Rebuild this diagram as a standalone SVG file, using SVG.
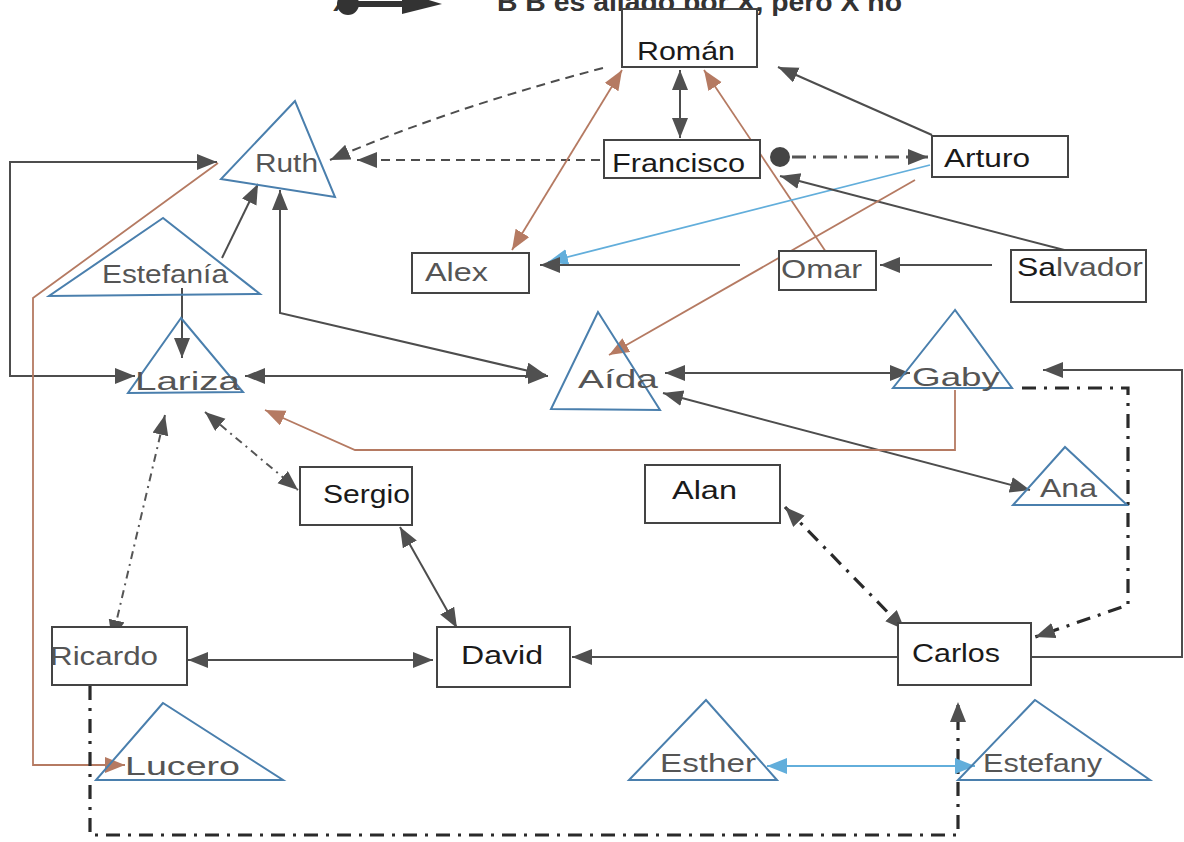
<svg xmlns="http://www.w3.org/2000/svg" width="1184" height="842" viewBox="0 0 1184 842">
<style>
.bg{fill:#ffffff}
.box{fill:#ffffff;stroke:#444;stroke-width:2}
.tri{fill:none;stroke:#4a7fad;stroke-width:2}
.lb{font-family:"Liberation Sans",Arial,sans-serif;font-size:26px;fill:#1a1a1a}
.lg{font-family:"Liberation Sans",Arial,sans-serif;font-size:26px;fill:#555}
.d{fill:none;stroke:#4d4d4d;stroke-width:2}
.br{fill:none;stroke:#b57a62;stroke-width:1.8}
.bl{fill:none;stroke:#62aedb;stroke-width:1.8}
.dash{fill:none;stroke:#4d4d4d;stroke-width:2;stroke-dasharray:9,6}
.dd{fill:none;stroke:#555;stroke-width:2;stroke-dasharray:8,5,2,5}
.ddk{fill:none;stroke:#2a2a2a;stroke-width:3.2;stroke-dasharray:14,8,3,8}
.leg{font-family:"Liberation Sans",Arial,sans-serif;font-size:26px;font-weight:bold;fill:#333}
</style>
<defs>
<marker id="ad" markerUnits="userSpaceOnUse" markerWidth="22" markerHeight="18" refX="20" refY="8" orient="auto-start-reverse"><path d="M0,0 L20,8 L0,16 z" fill="#505050"/></marker>
<marker id="ab" markerUnits="userSpaceOnUse" markerWidth="22" markerHeight="18" refX="20" refY="8" orient="auto-start-reverse"><path d="M0,0 L20,8 L0,16 z" fill="#b57a62"/></marker>
<marker id="al" markerUnits="userSpaceOnUse" markerWidth="22" markerHeight="18" refX="20" refY="8" orient="auto-start-reverse"><path d="M0,0 L20,8 L0,16 z" fill="#62aedb"/></marker>
</defs>
<rect class="bg" x="0" y="0" width="1184" height="842"/>

<g id="legend">
<text class="leg" x="333" y="11">X</text>
<circle cx="348" cy="4" r="11" fill="#333"/>
<path d="M355,4 L405,4" stroke="#333" stroke-width="6" fill="none"/>
<path d="M402,-8 L442,4 L402,14 z" fill="#333"/>
<text class="leg" x="497" y="11" textLength="405" lengthAdjust="spacingAndGlyphs">B  B es aliado por X, pero X no</text>
</g>

<g id="connectors">
<path class="dash" d="M603,68 Q450,108 330,160" marker-end="url(#ad)"/>
<path class="dash" d="M600,160 L357,160" marker-end="url(#ad)"/>
<path class="d" d="M680,70 L680,138" marker-start="url(#ad)" marker-end="url(#ad)"/>
<path class="d" d="M932,135 L778,67" marker-end="url(#ad)"/>
<circle cx="780" cy="157" r="10" fill="#444"/>
<path class="dd" style="stroke-width:3;stroke-dasharray:14,7,3,7" d="M792,157 L928,157" marker-end="url(#ad)"/>
<path class="br" d="M622,70 L512,250" marker-start="url(#ab)" marker-end="url(#ab)"/>
<path class="br" d="M826,252 L704,70" marker-end="url(#ab)"/>
<path class="bl" d="M930,165 L548,262" marker-end="url(#al)"/>
<path class="d" d="M1072,252 L780,176" marker-end="url(#ad)"/>
<path class="br" d="M915,180 L609,355" marker-end="url(#ab)"/>
<path class="d" d="M740,265 L540,265" marker-end="url(#ad)"/>
<path class="d" d="M992,265 L880,265" marker-end="url(#ad)"/>
<path class="d" d="M222,258 L258,184" marker-end="url(#ad)"/>
<path class="d" d="M182,288 L182,358" marker-end="url(#ad)"/>
<path class="d" d="M217,162 L10,162 L10,376 L135,376" marker-start="url(#ad)" marker-end="url(#ad)"/>
<path class="br" d="M218,163 L33,298 L33,765 L125,765" marker-end="url(#ab)"/>
<path class="d" d="M280,190 L280,313 L546,375" marker-start="url(#ad)" marker-end="url(#ad)"/>
<path class="d" d="M245,376 L548,376" marker-start="url(#ad)" marker-end="url(#ad)"/>
<path class="d" d="M665,373 L910,373" marker-start="url(#ad)" marker-end="url(#ad)"/>
<path class="d" d="M663,393 L1030,490" marker-start="url(#ad)" marker-end="url(#ad)"/>
<path class="br" d="M955,390 L955,450 L355,450 L265,410" marker-end="url(#ab)"/>
<path class="dd" d="M205,412 L298,490" marker-start="url(#ad)" marker-end="url(#ad)"/>
<path class="dd" d="M165,415 L112,640" marker-start="url(#ad)" marker-end="url(#ad)"/>
<path class="d" d="M400,527 L457,628" marker-start="url(#ad)" marker-end="url(#ad)"/>
<path class="d" d="M188,660 L433,660" marker-start="url(#ad)" marker-end="url(#ad)"/>
<path class="d" d="M898,657 L572,657" marker-end="url(#ad)"/>
<path class="d" d="M1031,657 L1182,657 L1182,370 L1043,370" marker-end="url(#ad)"/>
<path class="ddk" d="M1022,388 L1128,388 L1128,605 L1035,637" marker-end="url(#ad)"/>
<path class="ddk" d="M785,507 L905,630" marker-start="url(#ad)" marker-end="url(#ad)"/>
<path class="ddk" d="M90,686 L90,835 L958,835 L958,702" marker-end="url(#ad)"/>
<path class="bl" d="M767,766 L975,766" marker-start="url(#al)" marker-end="url(#al)"/>
</g>

<g id="Roman"><rect class="box" x="622" y="9" width="135" height="58"/><text class="lb" x="637" y="60" textLength="98" lengthAdjust="spacingAndGlyphs">Román</text></g>
<g id="Francisco"><rect class="box" x="604" y="140" width="156" height="38"/><text class="lb" x="612" y="172" textLength="133" lengthAdjust="spacingAndGlyphs">Francisco</text></g>
<g id="Arturo"><rect class="box" x="932" y="136" width="136" height="41"/><text class="lb" x="944" y="167" textLength="86" lengthAdjust="spacingAndGlyphs">Arturo</text></g>
<g id="Alex"><rect class="box" x="412" y="253" width="117" height="40"/><text class="lg" x="425" y="281" textLength="63" lengthAdjust="spacingAndGlyphs">Alex</text></g>
<g id="Omar"><rect class="box" x="779" y="251" width="97" height="39"/><text class="lg" x="781" y="278" textLength="81" lengthAdjust="spacingAndGlyphs">Omar</text></g>
<g id="Salvador"><rect class="box" x="1011" y="250" width="135" height="52"/><text class="lg" x="1017" y="276" textLength="126" lengthAdjust="spacingAndGlyphs"><tspan fill="#1a1a1a">Sa</tspan>lvador</text></g>
<g id="Sergio"><rect class="box" x="300" y="467" width="112" height="58"/><text class="lb" x="323" y="503" textLength="87" lengthAdjust="spacingAndGlyphs">Sergio</text></g>
<g id="Alan"><rect class="box" x="645" y="465" width="135" height="58"/><text class="lb" x="672" y="499" textLength="65" lengthAdjust="spacingAndGlyphs">Alan</text></g>
<g id="Ricardo"><rect class="box" x="52" y="627" width="135" height="58"/><text class="lg" x="50" y="665" textLength="108" lengthAdjust="spacingAndGlyphs">Ricardo</text></g>
<g id="David"><rect class="box" x="437" y="627" width="133" height="60"/><text class="lb" x="461" y="664" textLength="82" lengthAdjust="spacingAndGlyphs">David</text></g>
<g id="Carlos"><rect class="box" x="898" y="623" width="133" height="62"/><text class="lb" x="912" y="662" textLength="88" lengthAdjust="spacingAndGlyphs">Carlos</text></g>

<g id="Ruth"><path class="tri" d="M295,101 L221,179 L335,197 Z"/><text class="lg" x="255" y="172" textLength="63" lengthAdjust="spacingAndGlyphs">Ruth</text></g>
<g id="Estefania"><path class="tri" d="M163,218 L49,296 L260,294 Z"/><text class="lg" x="102" y="283" textLength="126" lengthAdjust="spacingAndGlyphs">Estefanía</text></g>
<g id="Lariza"><path class="tri" d="M181,318 L128,393 L243,392 Z"/><text class="lg" x="135" y="390" textLength="105" lengthAdjust="spacingAndGlyphs">Lariza</text></g>
<g id="Aida"><path class="tri" d="M598,312 L551,409 L660,410 Z"/><text class="lg" x="578" y="388" textLength="80" lengthAdjust="spacingAndGlyphs">Aída</text></g>
<g id="Gaby"><path class="tri" d="M955,310 L893,388 L1012,388 Z"/><text class="lg" x="912" y="386" textLength="88" lengthAdjust="spacingAndGlyphs">Gaby</text></g>
<g id="Ana"><path class="tri" d="M1065,447 L1013,505 L1127,505 Z"/><text class="lg" x="1040" y="497" textLength="57" lengthAdjust="spacingAndGlyphs">Ana</text></g>
<g id="Lucero"><path class="tri" d="M163,703 L96,780 L283,780 Z"/><text class="lg" x="125" y="775" textLength="115" lengthAdjust="spacingAndGlyphs">Lucero</text></g>
<g id="Esther"><path class="tri" d="M706,700 L629,780 L777,780 Z"/><text class="lg" x="660" y="772" textLength="96" lengthAdjust="spacingAndGlyphs">Esther</text></g>
<g id="Estefany"><path class="tri" d="M1035,700 L958,780 L1150,780 Z"/><text class="lg" x="983" y="772" textLength="119" lengthAdjust="spacingAndGlyphs">Estefany</text></g>
</svg>
